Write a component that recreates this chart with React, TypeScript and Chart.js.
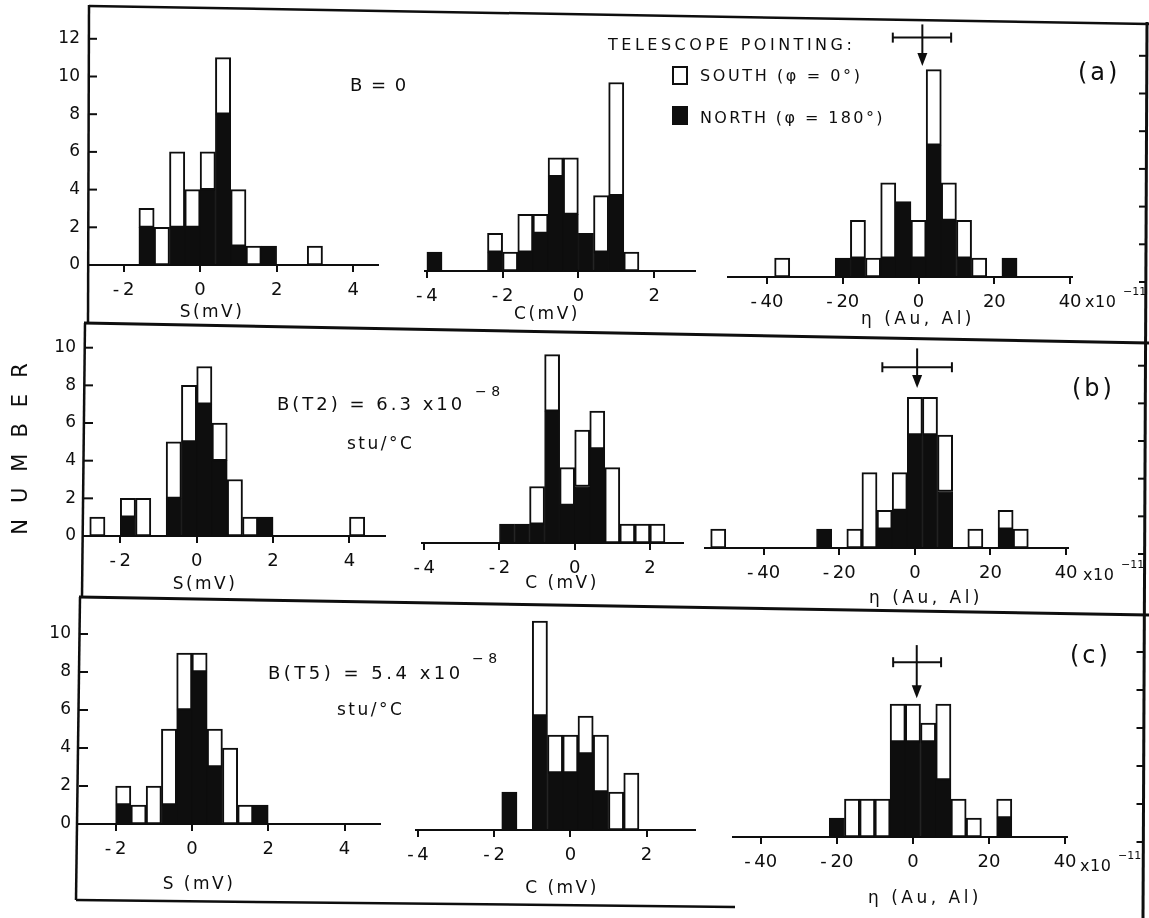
import React, { useEffect, useRef } from 'react';
import { Chart, registerables } from 'chart.js';

Chart.register(...registerables);

// ---------- tick labels ----------
const S_TICKS = [-2, 0, 2, 4];
const C_TICKS = [-4, -2, 0, 2];
const ETA_TICKS = [-40, -20, 0, 20, 40];
const Y_TICKS_A = [0, 2, 4, 6, 8, 10, 12];
const Y_TICKS_BC = [0, 2, 4, 6, 8, 10];

// ---------- (a) B = 0 ----------
const S_A_BINS = [-1.4, -1.0, -0.6, -0.2, 0.2, 0.6, 1.0, 1.4, 1.8, 3.0];
const S_A_SOUTH = [1, 2, 4, 2, 2, 3, 3, 1, 0, 1];
const S_A_NORTH = [2, 0, 2, 2, 4, 8, 1, 0, 1, 0];

const C_A_BINS = [-3.8, -2.2, -1.8, -1.4, -1.0, -0.6, -0.2, 0.2, 0.6, 1.0, 1.4];
const C_A_SOUTH = [0, 1, 1, 2, 1, 1, 3, 0, 3, 6, 1];
const C_A_NORTH = [1, 1, 0, 1, 2, 5, 3, 2, 1, 4, 0];

const E_A_BINS = [-36, -20, -16, -12, -8, -4, 0, 4, 8, 12, 16, 24];
const E_A_SOUTH = [1, 0, 2, 1, 4, 0, 2, 4, 2, 2, 1, 0];
const E_A_NORTH = [0, 1, 1, 0, 1, 4, 1, 7, 3, 1, 0, 1];

// ---------- (b) B(T2) ----------
const S_B_BINS = [-2.6, -1.8, -1.4, -0.6, -0.2, 0.2, 0.6, 1.0, 1.4, 1.8, 4.2];
const S_B_SOUTH = [1, 1, 2, 3, 3, 2, 2, 3, 1, 0, 1];
const S_B_NORTH = [0, 1, 0, 2, 5, 7, 4, 0, 0, 1, 0];

const C_B_BINS = [-1.8, -1.4, -1.0, -0.6, -0.2, 0.2, 0.6, 1.0, 1.4, 1.8, 2.2];
const C_B_SOUTH = [0, 0, 2, 3, 2, 3, 2, 4, 1, 1, 1];
const C_B_NORTH = [1, 1, 1, 7, 2, 3, 5, 0, 0, 0, 0];

const E_B_BINS = [-52, -24, -16, -12, -8, -4, 0, 4, 8, 16, 24, 28];
const E_B_SOUTH = [1, 0, 1, 4, 1, 2, 2, 2, 3, 1, 1, 1];
const E_B_NORTH = [0, 1, 0, 0, 1, 2, 6, 6, 3, 0, 1, 0];

// ---------- (c) B(T5) ----------
const S_C_BINS = [-1.8, -1.4, -1.0, -0.6, -0.2, 0.2, 0.6, 1.0, 1.4, 1.8];
const S_C_SOUTH = [1, 1, 2, 4, 3, 1, 2, 4, 1, 0];
const S_C_NORTH = [1, 0, 0, 1, 6, 8, 3, 0, 0, 1];

const C_C_BINS = [-1.6, -0.8, -0.4, 0, 0.4, 0.8, 1.2, 1.6];
const C_C_SOUTH = [0, 5, 2, 2, 2, 3, 2, 3];
const C_C_NORTH = [2, 6, 3, 3, 4, 2, 0, 0];

const E_C_BINS = [-20, -16, -12, -8, -4, 0, 4, 8, 12, 16, 24];
const E_C_SOUTH = [0, 2, 2, 2, 2, 2, 1, 4, 2, 1, 1];
const E_C_NORTH = [1, 0, 0, 0, 5, 5, 5, 3, 0, 0, 1];

// ---------- mean eta with error bar (arrow) ----------
const ARROW_A = { center: 1, lo: -6.8, hi: 8.6, bar: 12.7, tip: 11.2, top: 13.4 };
const ARROW_B = { center: 0.6, lo: -8.6, hi: 9.8, bar: 9.6, tip: 8.5, top: 10.6 };
const ARROW_C = { center: 1, lo: -5.2, hi: 7.4, bar: 9.2, tip: 7.3, top: 10.1 };

// ---------- layout (positions only) ----------
const FIG_W = 1149;
const FIG_H = 918;
const INK = '#0e0e0e';
const FONT = '"DejaVu Sans", "Liberation Sans", sans-serif';
const PAD_T = 30;
const PAD_B = 46;
const PAD_L = 30;
const PAD_R = 30;

type Geo = { left: number; right: number; top: number; base: number; ppu: number; xmin: number; xmax: number; rx?: number; drop?: number };

const GEO: Record<string, Geo> = {
  sA: { left: 88, right: 378, top: 10, base: 265, ppu: 18.85, xmin: -2.93, xmax: 4.65 },
  cA: { left: 425, right: 695, top: 12, base: 271, ppu: 18.85, xmin: -4.05, xmax: 3.08 },
  eA: { left: 728, right: 1072, top: 18, base: 277, ppu: 18.85, xmin: -50.3, xmax: 40.5, rx: 1146, drop: 5 },
  sB: { left: 84, right: 385, top: 328, base: 536, ppu: 18.83, xmin: -2.95, xmax: 4.93 },
  cB: { left: 422, right: 683, top: 332, base: 543, ppu: 18.83, xmin: -4.06, xmax: 2.88 },
  eB: { left: 705, right: 1068, top: 340, base: 548, ppu: 18.83, xmin: -55.5, xmax: 40.5, rx: 1145, drop: 6 },
  sC: { left: 79, right: 380, top: 600, base: 824, ppu: 19.0, xmin: -2.96, xmax: 4.93 },
  cC: { left: 416, right: 695, top: 604, base: 830, ppu: 19.0, xmin: -4.05, xmax: 3.27 },
  eC: { left: 733, right: 1067, top: 612, base: 837, ppu: 19.0, xmin: -47.3, xmax: 40.5, rx: 1143.5, drop: 5 },
};

const fmtTick = (v: any) => {
  const n = Number(v);
  return n < 0 ? '-\u2009' + Math.abs(n) : String(n);
};

const panelMarks = {
  id: 'panelMarks',
  afterDatasetsDraw(chart: any, _args: any, opts: any) {
    const { ctx, chartArea } = chart;
    const xs = chart.scales.x;
    const ys = chart.scales.y;
    ctx.save();
    ctx.strokeStyle = INK;
    ctx.fillStyle = INK;
    ctx.lineWidth = 2;
    const seg = (x1: number, y1: number, x2: number, y2: number) => {
      ctx.beginPath();
      ctx.moveTo(x1, y1);
      ctx.lineTo(x2, y2);
      ctx.stroke();
    };
    if (opts.leftTicks) {
      opts.leftTicks.forEach((v: number) => {
        const py = ys.getPixelForValue(v);
        seg(chartArea.left, py, chartArea.left + 9, py);
      });
    }
    if (opts.rightTicks) {
      opts.rightTicks.forEach((v: number) => {
        const py = ys.getPixelForValue(v) + opts.drop;
        seg(opts.rightX, py, opts.rightX - 7, py);
      });
    }
    if (opts.arrow) {
      const a = opts.arrow;
      const cx = xs.getPixelForValue(a.center);
      const lo = xs.getPixelForValue(a.lo);
      const hi = xs.getPixelForValue(a.hi);
      const by = ys.getPixelForValue(a.bar);
      const ty = ys.getPixelForValue(a.tip);
      const topY = ys.getPixelForValue(a.top);
      seg(lo, by, hi, by);
      seg(lo, by - 5, lo, by + 5);
      seg(hi, by - 5, hi, by + 5);
      seg(cx, topY, cx, ty - 10);
      ctx.beginPath();
      ctx.moveTo(cx - 5, ty - 13);
      ctx.lineTo(cx + 5, ty - 13);
      ctx.lineTo(cx, ty);
      ctx.closePath();
      ctx.fill();
    }
    ctx.restore();
  },
};

type PanelProps = {
  bins: number[];
  south: number[];
  north: number[];
  xTicks: number[];
  geo: Geo;
  yTicks?: number[];
  rightTicks?: number[];
  arrow?: any;
};

function Panel({ bins, south, north, xTicks, geo, yTicks, rightTicks, arrow }: PanelProps) {
  const ref = useRef<HTMLCanvasElement | null>(null);
  const hasAxis = !!yTicks;
  const cLeft = hasAxis ? 0 : geo.left - PAD_L;
  const padL = geo.left - cLeft;
  const cRight = rightTicks ? FIG_W : geo.right + PAD_R;
  const padR = cRight - geo.right;
  const cTop = geo.top - PAD_T;
  const w = cRight - cLeft;
  const h = geo.base - cTop + PAD_B;
  const ymax = (geo.base - geo.top) / geo.ppu;

  useEffect(() => {
    const canvas = ref.current;
    if (!canvas) return;
    const chart = new Chart(canvas, {
      type: 'bar',
      data: {
        datasets: [
          {
            label: 'NORTH (φ = 180°)',
            data: bins.map((x, i) => ({ x, y: north[i] })),
            backgroundColor: INK,
            borderColor: INK,
            borderWidth: 1,
            borderSkipped: false,
            barPercentage: 1,
            categoryPercentage: 1,
          },
          {
            label: 'SOUTH (φ = 0°)',
            data: bins.map((x, i) => ({ x, y: south[i] })),
            backgroundColor: '#ffffff',
            borderColor: INK,
            borderWidth: 2,
            borderSkipped: false,
            barPercentage: 1,
            categoryPercentage: 1,
          },
        ],
      } as any,
      options: {
        responsive: false,
        animation: false,
        events: [],
        layout: { padding: { left: hasAxis ? 0 : padL, right: padR, top: PAD_T, bottom: 0 } },
        plugins: {
          legend: { display: false },
          tooltip: { enabled: false },
          panelMarks: {
            leftTicks: yTicks || null,
            rightTicks: rightTicks || null,
            rightX: (geo.rx || 0) - cLeft,
            drop: geo.drop || 0,
            arrow: arrow || null,
          },
        } as any,
        scales: {
          x: {
            type: 'linear',
            stacked: true,
            offset: false,
            bounds: 'data',
            min: geo.xmin,
            max: geo.xmax,
            afterBuildTicks: (s: any) => {
              s.ticks = xTicks.map((v) => ({ value: v }));
            },
            afterFit: (s: any) => {
              s.height = PAD_B;
            },
            ticks: {
              autoSkip: false,
              maxRotation: 0,
              padding: 8,
              color: INK,
              font: { family: FONT, size: 18 },
              callback: fmtTick,
            },
            grid: { display: true, offset: false, drawOnChartArea: false, drawTicks: true, tickLength: 7, color: INK, lineWidth: 2 },
            border: { display: true, color: INK, width: 2 },
          },
          y: {
            type: 'linear',
            stacked: true,
            bounds: 'data',
            min: 0,
            max: ymax,
            display: hasAxis,
            afterBuildTicks: (s: any) => {
              if (yTicks) s.ticks = yTicks.map((v) => ({ value: v }));
            },
            afterFit: (s: any) => {
              s.width = hasAxis ? padL : 0;
            },
            ticks: {
              padding: 8,
              color: INK,
              font: { family: FONT, size: 17 },
              callback: (v: any) => String(v),
            },
            grid: { display: false, drawTicks: false },
            border: { display: false },
          },
        } as any,
      },
      plugins: [panelMarks as any],
    });
    return () => chart.destroy();
  }, []);

  return (
    <canvas
      ref={ref}
      width={w}
      height={h}
      style={{ position: 'absolute', left: cLeft, top: cTop, width: w, height: h }}
    />
  );
}

type LabelProps = { x: number; y: number; text: string; size?: number; ls?: number; center?: boolean; rotate?: number };

function Label({ x, y, text, size = 16, ls = 1, center = false, rotate = 0 }: LabelProps) {
  const tr = (center ? 'translate(-50%, -50%)' : 'translateY(-50%)') + (rotate ? ` rotate(${rotate}deg)` : '');
  return (
    <div
      style={{
        position: 'absolute',
        left: x,
        top: y,
        transform: tr,
        fontFamily: FONT,
        fontSize: size,
        letterSpacing: ls,
        color: INK,
        whiteSpace: 'nowrap',
        lineHeight: 1,
      }}
    >
      {text}
    </div>
  );
}

function Frame() {
  const lines: [number, number, number, number, number][] = [
    [89, 6, 1149, 24, 2.5],
    [89, 5, 88, 323, 2.5],
    [85, 323, 82, 597, 2.5],
    [80, 597, 76, 900, 2.5],
    [84, 323, 1149, 343, 3],
    [79, 597, 1149, 615, 3],
    [76, 900, 735, 907, 2.5],
    [1147, 22, 1143, 918, 3],
  ];
  return (
    <svg width={FIG_W} height={FIG_H} style={{ position: 'absolute', left: 0, top: 0, pointerEvents: 'none' }}>
      {lines.map(([x1, y1, x2, y2, sw], i) => (
        <line key={i} x1={x1} y1={y1} x2={x2} y2={y2} stroke={INK} strokeWidth={sw} />
      ))}
    </svg>
  );
}

export default function App() {
  return (
    <div
      style={{
        position: 'absolute',
        left: 0,
        top: 0,
        width: FIG_W,
        height: FIG_H,
        background: '#ffffff',
        overflow: 'hidden',
      }}
    >
      <Panel bins={S_A_BINS} south={S_A_SOUTH} north={S_A_NORTH} xTicks={S_TICKS} geo={GEO.sA} yTicks={Y_TICKS_A} />
      <Panel bins={C_A_BINS} south={C_A_SOUTH} north={C_A_NORTH} xTicks={C_TICKS} geo={GEO.cA} />
      <Panel bins={E_A_BINS} south={E_A_SOUTH} north={E_A_NORTH} xTicks={ETA_TICKS} geo={GEO.eA} rightTicks={Y_TICKS_A} arrow={ARROW_A} />

      <Panel bins={S_B_BINS} south={S_B_SOUTH} north={S_B_NORTH} xTicks={S_TICKS} geo={GEO.sB} yTicks={Y_TICKS_BC} />
      <Panel bins={C_B_BINS} south={C_B_SOUTH} north={C_B_NORTH} xTicks={C_TICKS} geo={GEO.cB} />
      <Panel bins={E_B_BINS} south={E_B_SOUTH} north={E_B_NORTH} xTicks={ETA_TICKS} geo={GEO.eB} rightTicks={Y_TICKS_BC} arrow={ARROW_B} />

      <Panel bins={S_C_BINS} south={S_C_SOUTH} north={S_C_NORTH} xTicks={S_TICKS} geo={GEO.sC} yTicks={Y_TICKS_BC} />
      <Panel bins={C_C_BINS} south={C_C_SOUTH} north={C_C_NORTH} xTicks={C_TICKS} geo={GEO.cC} />
      <Panel bins={E_C_BINS} south={E_C_SOUTH} north={E_C_NORTH} xTicks={ETA_TICKS} geo={GEO.eC} rightTicks={Y_TICKS_BC} arrow={ARROW_C} />

      <Frame />

      {/* row (a) */}
      <Label x={350} y={85} text="B = 0" size={18} ls={1.5} />
      <Label x={608} y={45} text="TELESCOPE POINTING:" size={16} ls={3.5} />
      <div style={{ position: 'absolute', left: 672, top: 66, width: 16, height: 19, border: `2px solid ${INK}`, boxSizing: 'border-box', background: '#fff' }} />
      <Label x={700} y={76} text="SOUTH (φ = 0°)" size={16} ls={2.6} />
      <div style={{ position: 'absolute', left: 672, top: 106, width: 16, height: 19, background: INK }} />
      <Label x={700} y={118} text="NORTH (φ = 180°)" size={16} ls={2.4} />
      <Label x={1078} y={72} text="(a)" size={24} ls={3} />
      <Label x={212} y={311} text="S(mV)" size={17} ls={2.5} center />
      <Label x={547} y={313} text="C(mV)" size={17} ls={2.5} center />
      <Label x={918} y={318} text="η (Au, Al)" size={17} ls={3.5} center />
      <Label x={1085} y={302} text="x10" size={16} ls={0.5} />
      <Label x={1123} y={291} text="−11" size={11} ls={0} />

      {/* row (b) */}
      <Label x={20} y={441} text="NUMBER" size={21} ls={16} center rotate={-90} />
      <Label x={277} y={404} text="B(T2) = 6.3 x10" size={18} ls={3} />
      <Label x={475} y={391} text="− 8" size={14} ls={0} />
      <Label x={347} y={443} text="stu/°C" size={17} ls={2.5} />
      <Label x={205} y={583} text="S(mV)" size={17} ls={2.5} center />
      <Label x={562} y={582} text="C (mV)" size={17} ls={2.5} center />
      <Label x={926} y={597} text="η (Au, Al)" size={17} ls={3.5} center />
      <Label x={1072} y={388} text="(b)" size={24} ls={3} />
      <Label x={1083} y={575} text="x10" size={16} ls={0.5} />
      <Label x={1121} y={564} text="−11" size={11} ls={0} />

      {/* row (c) */}
      <Label x={268} y={673} text="B(T5) = 5.4 x10" size={18} ls={3.5} />
      <Label x={472} y={658} text="− 8" size={14} ls={0} />
      <Label x={337} y={709} text="stu/°C" size={17} ls={2.5} />
      <Label x={199} y={883} text="S (mV)" size={17} ls={2.5} center />
      <Label x={562} y={887} text="C (mV)" size={17} ls={2.5} center />
      <Label x={925} y={897} text="η (Au, Al)" size={17} ls={3.5} center />
      <Label x={1070} y={655} text="(c)" size={24} ls={3} />
      <Label x={1080} y={866} text="x10" size={16} ls={0.5} />
      <Label x={1118} y={855} text="−11" size={11} ls={0} />
    </div>
  );
}
